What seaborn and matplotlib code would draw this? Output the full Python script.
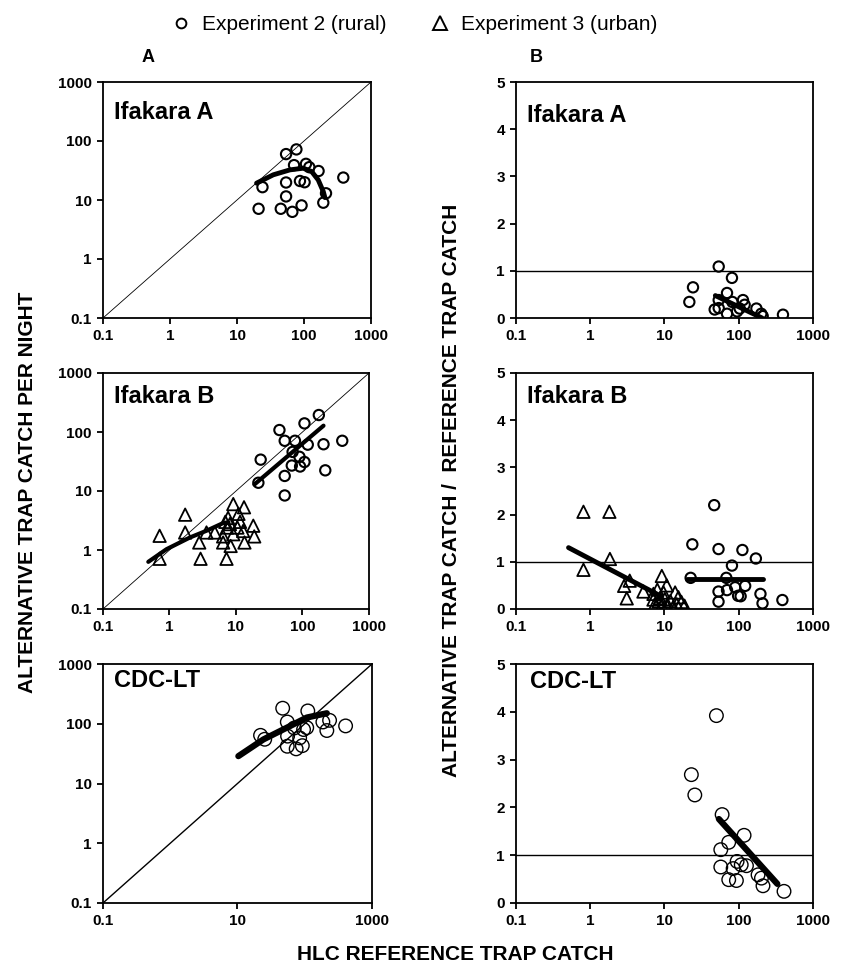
import numpy as np
import pandas as pd
import seaborn as sns
import matplotlib.pyplot as plt
from matplotlib.lines import Line2D

# ---- data ----
decades = [0.1, 1, 10, 100, 1000]
decade_labels = ['0.1', '1', '10', '100', '1000']
cdc_xticks = [0.1, 10, 1000]
cdc_xlabels = ['0.1', '10', '1000']
ratio_ticks = [0, 1, 2, 3, 4, 5]
identity = [0.1, 1000]

# column A: alternative trap catch vs HLC catch
ifa_a_hlc = [54, 77, 71, 107, 120, 165, 386, 24, 54, 87, 102, 213, 194, 54, 21, 45, 67, 92]
ifa_a_alt = [60, 72, 39, 41, 36, 31, 24, 16.5, 19.8, 21, 20, 13, 9, 11.5, 7.1, 7.1, 6.3, 8.1]
ifa_a_fit_x = [19.6, 34.7, 61.6, 97.5, 130, 163, 194, 205]
ifa_a_fit_y = [19.3, 26.7, 32.4, 34.6, 30.4, 21.9, 13.9, 11]

ifb_rural_hlc = [176, 107, 45, 54, 77, 120, 207, 396, 23.5, 71, 90, 107, 69, 92, 220, 54, 54, 21.7]
ifb_rural_alt = [194, 140, 108, 71, 71, 61, 62, 71, 34, 46, 38, 31, 27, 26, 22.4, 18, 8.4, 13.8]
ifb_rural_fit_x = [18.9, 207]
ifb_rural_fit_y = [12.9, 128]

ifb_urban_hlc = [0.71, 0.71, 1.72, 1.72, 2.8, 2.93, 3.6, 4.8, 7.2, 6.4, 8.3, 9.1, 13.2,
                 10.9, 7.6, 8.1, 10.5, 7.3, 12.8, 18.2, 18.8, 13.4, 6.4, 9.1, 11.5, 6.9]
ifb_urban_alt = [1.74, 0.71, 3.97, 1.98, 1.34, 0.71, 1.98, 1.98, 0.71, 1.34, 1.17, 6.0, 5.3,
                 4.1, 3.5, 2.75, 2.4, 2.4, 2.1, 2.58, 1.7, 1.34, 1.7, 1.85, 3.0, 3.0]
ifb_urban_fit_x = [0.48, 0.90, 2.03, 3.6, 6.4, 7.7]
ifb_urban_fit_y = [0.63, 1.03, 1.63, 2.12, 2.86, 2.94]

cdc_hlc = [47, 111, 55, 186, 234, 405, 213, 22, 25.4, 55.5, 70, 107, 96, 84, 55, 74.5, 92]
cdc_alt = [182, 164, 107, 107, 114, 92, 77, 64, 55, 62, 85, 86, 80, 58, 42, 38, 43]
cdc_fit_x = [10.3, 24.3, 60.6, 107, 213]
cdc_fit_y = [28.7, 54.7, 91.6, 127, 150]

# column B: alternative / reference ratio vs HLC catch
ifa_a_r_hlc = [53.7, 81, 24.2, 21.6, 69.5, 53.7, 47.4, 53.7, 69.5, 114, 120, 103, 173, 201, 210, 394, 82, 95]
ifa_a_ratio = [1.09, 0.85, 0.65, 0.34, 0.53, 0.38, 0.18, 0.21, 0.09, 0.38, 0.28, 0.2, 0.2, 0.09, 0.04, 0.07, 0.34, 0.14]
ifa_a_r_fit_x = [48.4, 206]
ifa_a_r_fit_y = [0.475, 0.0]

ifb_rural_r_hlc = [46.7, 23.7, 53.4, 112, 170, 81, 22.5, 68, 89.5, 122, 69.5, 53.4, 98, 106, 196, 53.4, 209, 387]
ifb_rural_ratio = [2.2, 1.37, 1.27, 1.25, 1.07, 0.92, 0.66, 0.66, 0.46, 0.49, 0.4, 0.37, 0.28, 0.27, 0.32, 0.155, 0.12, 0.19]
ifb_rural_r_fit_x = [19.9, 209]
ifb_rural_r_fit_y = [0.634, 0.634]

ifb_urban_r_hlc = [0.81, 1.81, 0.81, 1.84, 2.86, 3.4, 3.1, 5.2, 9.2, 7.1, 8.0, 8.7, 9.7, 10.7,
                   7.4, 9.2, 12, 13.9, 15.4, 16.9, 18.6, 10.7, 13, 8.3, 10.1, 14.6, 7.1]
ifb_urban_ratio = [2.06, 2.06, 0.83, 1.06, 0.49, 0.6, 0.225, 0.37, 0.7, 0.32, 0.41, 0.23, 0.35, 0.5,
                   0.1, 0.08, 0.17, 0.35, 0.25, 0.15, 0.07, 0.07, 0.03, 0.16, 0.21, 0.1, 0.2]
ifb_urban_r_fit_x = [0.51, 9.0]
ifb_urban_r_fit_y = [1.30, 0.27]

cdc_r_hlc = [50, 23, 25.6, 59.7, 118, 73.3, 57.3, 57.3, 95, 108, 127, 84, 73.3, 93, 182, 212, 202, 407]
cdc_ratio = [3.92, 2.685, 2.26, 1.85, 1.416, 1.27, 1.116, 0.753, 0.87, 0.8, 0.78, 0.72, 0.488, 0.47, 0.59, 0.36, 0.52, 0.244]
cdc_r_fit_x = [54, 331]
cdc_r_fit_y = [1.757, 0.40]

sns.set_style('ticks')
plt.rcParams['font.family'] = ['Liberation Sans', 'DejaVu Sans']
plt.rcParams['text.color'] = 'black'
plt.rcParams['axes.labelcolor'] = 'black'
plt.rcParams['xtick.color'] = 'black'
plt.rcParams['ytick.color'] = 'black'

fig = plt.figure(figsize=(8.62, 9.76), dpi=100)
W, H = 862, 976


def make_ax(left, top, right, bottom):
    return fig.add_axes([left / W, 1 - bottom / H, (right - left) / W, (bottom - top) / H])


def style(ax, xticks, xlabels, yticks, ylabels, ylog):
    ax.set_xscale('log')
    if ylog:
        ax.set_yscale('log')
    ax.set_xlim(0.1, 1000)
    ax.set_xticks(xticks, labels=xlabels)
    ax.set_yticks(yticks, labels=ylabels)
    ax.minorticks_off()
    ax.set_xlabel('')
    ax.set_ylabel('')
    for s in ax.spines.values():
        s.set_visible(True)
        s.set_linewidth(1.3)
        s.set_color('black')
    ax.tick_params(direction='out', length=4, width=1.3, pad=4, labelsize=11,
                   colors='black', labelcolor='black')
    for lab in ax.get_xticklabels() + ax.get_yticklabels():
        lab.set_fontweight('bold')


def pts(ax, x, y, marker='o', s=55, lw=1.5):
    sns.scatterplot(x=x, y=y, ax=ax, marker=marker, s=s, facecolor='none',
                    edgecolor='black', linewidth=lw, zorder=3)


def fit(ax, x, y, lw=3.5):
    sns.lineplot(x=x, y=y, ax=ax, color='black', lw=lw, sort=False,
                 estimator=None, zorder=4, solid_capstyle='round')


def title(ax, text, x, y):
    ax.text(x, y, text, transform=ax.transAxes, fontsize=17, fontweight='bold',
            va='center', ha='left', color='black')


rows = [(82, 318), (373, 609), (664, 903)]

# ---- column A ----
axA1 = make_ax(103, rows[0][0], 371, rows[0][1])
axA1.set_xscale('log'); axA1.set_yscale('log')
axA1.plot(identity, identity, color='black', lw=0.6)
pts(axA1, ifa_a_hlc, ifa_a_alt)
fit(axA1, ifa_a_fit_x, ifa_a_fit_y)
axA1.set_ylim(0.1, 1000)
style(axA1, decades, decade_labels, decades, decade_labels, True)
title(axA1, 'Ifakara A', 0.04, 0.87)

axA2 = make_ax(103, rows[1][0], 369, rows[1][1])
axA2.set_xscale('log'); axA2.set_yscale('log')
axA2.plot(identity, identity, color='black', lw=0.6)
pts(axA2, ifb_rural_hlc, ifb_rural_alt)
pts(axA2, ifb_urban_hlc, ifb_urban_alt, marker='^', s=80, lw=1.3)
fit(axA2, ifb_rural_fit_x, ifb_rural_fit_y, lw=3)
fit(axA2, ifb_urban_fit_x, ifb_urban_fit_y, lw=3)
axA2.set_ylim(0.1, 1000)
style(axA2, decades, decade_labels, decades, decade_labels, True)
title(axA2, 'Ifakara B', 0.04, 0.90)

axA3 = make_ax(103, rows[2][0], 372, rows[2][1])
axA3.set_xscale('log'); axA3.set_yscale('log')
axA3.plot(identity, identity, color='black', lw=1.0)
pts(axA3, cdc_hlc, cdc_alt, s=95, lw=1.0)
fit(axA3, cdc_fit_x, cdc_fit_y, lw=4.5)
axA3.set_ylim(0.1, 1000)
style(axA3, cdc_xticks, cdc_xlabels, decades, decade_labels, True)
title(axA3, 'CDC-LT', 0.04, 0.93)

# ---- column B ----
axB1 = make_ax(516, rows[0][0], 813, rows[0][1])
axB1.set_xscale('log')
axB1.axhline(1, color='black', lw=1.0)
pts(axB1, ifa_a_r_hlc, ifa_a_ratio)
fit(axB1, ifa_a_r_fit_x, ifa_a_r_fit_y)
axB1.set_ylim(0, 5)
style(axB1, decades, decade_labels, ratio_ticks, [str(t) for t in ratio_ticks], False)
title(axB1, 'Ifakara A', 0.037, 0.86)

axB2 = make_ax(516, rows[1][0], 813, rows[1][1])
axB2.set_xscale('log')
axB2.axhline(1, color='black', lw=1.0)
pts(axB2, ifb_rural_r_hlc, ifb_rural_ratio)
pts(axB2, ifb_urban_r_hlc, ifb_urban_ratio, marker='^', s=80, lw=1.3)
fit(axB2, ifb_rural_r_fit_x, ifb_rural_r_fit_y)
fit(axB2, ifb_urban_r_fit_x, ifb_urban_r_fit_y)
axB2.set_ylim(0, 5)
style(axB2, decades, decade_labels, ratio_ticks, [str(t) for t in ratio_ticks], False)
title(axB2, 'Ifakara B', 0.037, 0.90)

axB3 = make_ax(516, rows[2][0], 813, rows[2][1])
axB3.set_xscale('log')
axB3.axhline(1, color='black', lw=1.0)
pts(axB3, cdc_r_hlc, cdc_ratio, s=95, lw=1.0)
fit(axB3, cdc_r_fit_x, cdc_r_fit_y, lw=4.5)
axB3.set_ylim(0, 5)
style(axB3, decades, decade_labels, ratio_ticks, [str(t) for t in ratio_ticks], False)
title(axB3, 'CDC-LT', 0.047, 0.925)

# ---- figure texts ----
fig.text(148 / W, 1 - 57 / H, 'A', ha='center', va='center', fontsize=13, fontweight='bold')
fig.text(536 / W, 1 - 57 / H, 'B', ha='center', va='center', fontsize=13, fontweight='bold')
fig.text(28 / W, 1 - 492 / H, 'ALTERNATIVE TRAP CATCH PER NIGHT', rotation=90,
         ha='center', va='center', fontsize=15, fontweight='bold')
fig.text(452 / W, 1 - 490 / H, 'ALTERNATIVE TRAP CATCH /  REFERENCE TRAP CATCH', rotation=90,
         ha='center', va='center', fontsize=15, fontweight='bold')
fig.text(455 / W, 1 - 954 / H, 'HLC REFERENCE TRAP CATCH',
         ha='center', va='center', fontsize=15, fontweight='bold')

handles = [
    Line2D([], [], marker='o', ls='', mfc='none', mec='black', ms=7, mew=1.4,
           label='Experiment 2 (rural)'),
    Line2D([], [], marker='^', ls='', mfc='none', mec='black', ms=10, mew=1.4,
           label='Experiment 3 (urban)'),
]
leg = fig.legend(handles=handles, loc='center', bbox_to_anchor=(415 / W, 1 - 25 / H), ncol=2,
                 frameon=False, fontsize=15, handlelength=0.8, handletextpad=0.6,
                 columnspacing=2.2)
for t in leg.get_texts():
    t.set_color('black')

fig.savefig('out.png', dpi=100)
